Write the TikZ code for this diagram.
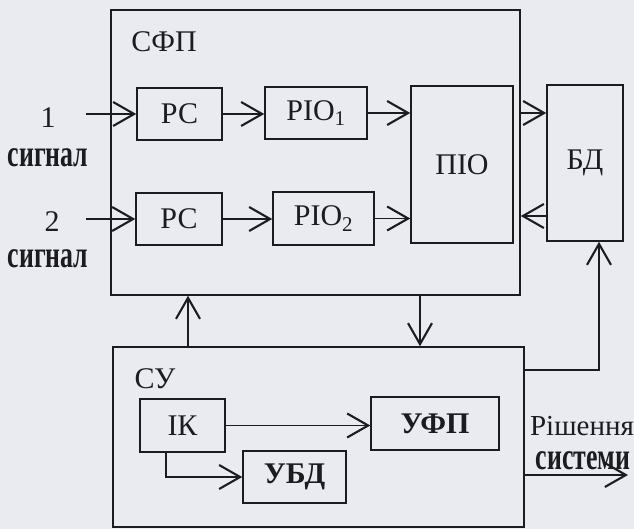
\documentclass[tikz,border=0pt]{standalone}
\usepackage{fontspec}
\usepackage{graphicx}
\setmainfont{Liberation Serif}
\usetikzlibrary{arrows.meta}
\definecolor{ink}{RGB}{28,28,32}
\definecolor{paper}{RGB}{233,235,241}
\newcommand\lab{\fontsize{30}{30}\selectfont}
\newcommand\narrowtxt[1]{\scalebox{0.68}[1]{\fontsize{38}{38}\selectfont\bfseries #1}}
\tikzset{
  blk/.style={draw=ink, line width=1.5pt, inner sep=0pt, text=ink, font=\lab},
  lbl/.style={inner sep=0pt, text=ink, font=\lab},
  arr/.style={draw=ink, line width=1.5pt, -{Straight Barb[length=21pt,width=24pt,line width=2.1pt]}},
}
\begin{document}
\begin{tikzpicture}[x=1pt,y=-1pt]
\useasboundingbox[fill=paper] (0,0) rectangle (634,529);
% outer blocks
\node[blk, minimum width=409pt, minimum height=285pt] (sfp) at (315.5,152.5) {};
\node[blk, minimum width=411pt, minimum height=180pt] (su) at (318.5,437) {};
\node[lbl] (sfpl) at (164,42) {СФП};
\node[lbl] (sul) at (155,379) {СУ};
% inner blocks
\node[blk, minimum width=85pt, minimum height=52pt] (rc1) at (179.5,114) {РС};
\node[blk, minimum width=86pt, minimum height=52pt] (rc2) at (179,219) {РС};
\node[blk, minimum width=102pt, minimum height=52pt] (rio1) at (316,113) {РІО\textsubscript{1}};
\node[blk, minimum width=101pt, minimum height=53pt] (rio2) at (323.5,218.5) {РІО\textsubscript{2}};
\node[blk, minimum width=102pt, minimum height=157pt] (pio) at (462,164.5) {ПІО};
\node[blk, minimum width=76pt, minimum height=156pt] (bd) at (585,163) {БД};
\node[blk, minimum width=85pt, minimum height=53pt] (ik) at (182.5,425.5) {ІК};
\node[blk, minimum width=128pt, minimum height=53pt, font=\lab\bfseries] (ufp) at (435,423.5) {УФП};
\node[blk, minimum width=103pt, minimum height=52pt, font=\lab\bfseries] (ubd) at (294.5,477) {УБД};
% side labels
\node[lbl] (n1) at (48,118) {1};
\node[lbl] (s1) at (48,158) {\narrowtxt{сигнал}};
\node[lbl] (n2) at (52,222) {2};
\node[lbl] (s2) at (48,259) {\narrowtxt{сигнал}};
\node[lbl, font=\fontsize{29}{29}\selectfont] (res1) at (582,426) {Рішення};
\node[lbl] (res2) at (583,461) {\narrowtxt{системи}};
% free ends
\coordinate (in1) at (86,114);
\coordinate (in2) at (86,219);
\coordinate (out) at (628,475);
\coordinate (back) at (462,216);
% connectors
\draw[arr] (in1) -- (rc1.west);
\draw[arr] (in2) -- (rc2.west);
\draw[arr] (rc1.east) -- (rc1.east -| rio1.west);
\draw[arr] (rc2.east) -- (rc2.east -| rio2.west);
\draw[arr] (rio1.east) -- (rio1.east -| pio.west);
\draw[arr] (rio2.east) -- (rio2.east -| pio.west);
\draw[arr] (rio1.east -| sfp.east) -- (rio1.east -| bd.west);
\draw[arr] (back -| bd.west) -- (back -| sfp.east);
\draw[arr] (su.north -| 188,0) -- (sfp.south -| 188,0);
\draw[arr] (sfp.south -| 420,0) -- (su.north -| 420,0);
\draw[arr] (su.east |- 0,370) -| (bd.south -| 599,0);
\draw[arr] (ik.east) -- (ik.east -| ufp.west);
\draw[arr] (ik.south -| 166,0) |- (ubd.west);
\draw[arr] (su.east |- out) -- (out);
\end{tikzpicture}
\end{document}
